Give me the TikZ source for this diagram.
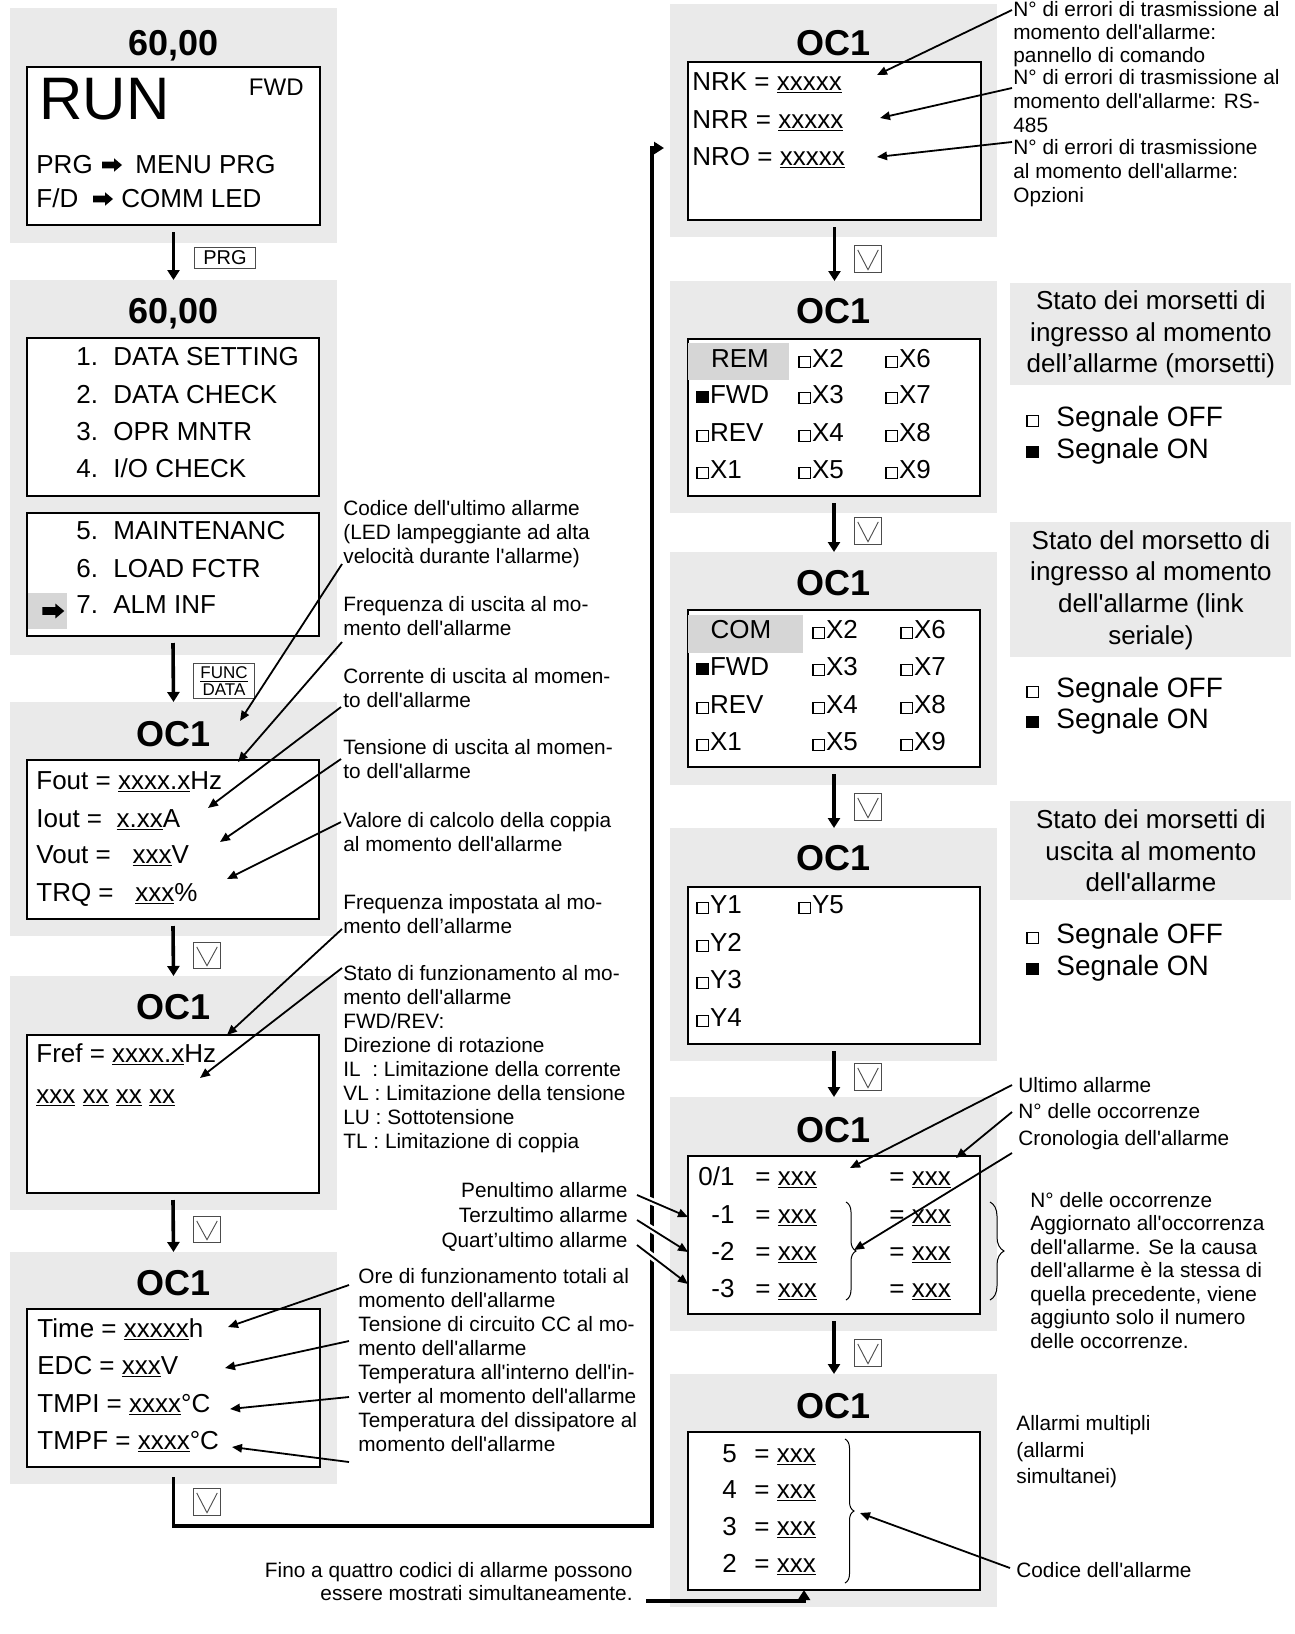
\documentclass[tikz,border=0pt]{standalone}
\usepackage{fontspec}
\setmainfont{Liberation Sans}[Ligatures=TeXOff]
\usetikzlibrary{arrows.meta,shapes.arrows,decorations.pathreplacing,positioning}

\definecolor{panelgray}{RGB}{234,234,234}
\definecolor{markgray}{RGB}{214,214,214}

% small signal squares
\newcommand{\sqoff}{{\fboxsep=0pt\fboxrule=0.6pt\fbox{\rule{0pt}{5pt}\rule{5pt}{0pt}}}\kern0.6pt}
\newcommand{\sqon}{\rule{6.2pt}{6.2pt}\kern0.6pt}
\newcommand{\ux}[1]{\underline{#1}}

\tikzset{
  rect/.style n args={4}{anchor=north west, at={(#1,#2)},
    minimum width={(#3-#1)*0.5pt}, minimum height={(#4-#2)*0.5pt}},
  panel/.style={fill=panelgray, inner sep=0pt, outer sep=0pt},
  screen/.style={draw, fill=white, line width=0.6pt, inner sep=0pt, outer sep=0pt},
  hilite/.style={fill=markgray, inner sep=0pt, outer sep=0pt},
  ttl/.style={font=\bfseries\fontsize{18}{20}\selectfont, anchor=base, inner sep=0pt},
  fld/.style={font=\fontsize{13}{15}\selectfont, anchor=base west, inner sep=0pt},
  note/.style={font=\fontsize{10.4}{#1}\selectfont, align=left, anchor=north west, inner sep=0pt},
  note/.default=12pt,
  legend/.style={fill=panelgray, font=\fontsize{13}{15.8}\selectfont, align=center, inner sep=0pt},
  sig/.style={font=\fontsize{14}{16}\selectfont, anchor=base west, inner sep=0pt},
  key/.style={draw=black!70, line width=0.5pt, fill=white, inner sep=0pt, font=\fontsize{10}{10}\selectfont},
  vkey/.style={key, path picture={\draw[line width=0.45pt]
      ([xshift=1.6pt,yshift=-2.2pt]path picture bounding box.north west) --
      ([yshift=1.4pt]path picture bounding box.south) --
      ([xshift=-1.6pt,yshift=-2.2pt]path picture bounding box.north east);}},
  flow/.style={line width=1.8pt, -{Triangle[length=5pt,width=6pt]}},
  loop/.style={line width=1.8pt},
  ptr/.style={line width=0.9pt, -{Triangle[length=5pt,width=4.2pt]}},
  brc/.style={decorate, decoration={brace, amplitude=#1}, line width=0.5pt},
  harr/.style={single arrow, fill=black, inner sep=0pt, text height=3pt, text depth=0pt,
    single arrow head extend=1.6pt, minimum height=10pt, single arrow tip angle=80},
}

\begin{document}
\begin{tikzpicture}[x=0.5pt, y=-0.5pt]
\useasboundingbox (0,0) rectangle (1295,1634);

% grey panels
\node[panel, rect={10}{8}{337}{243}]    (p1) {};
\node[panel, rect={10}{280}{337}{655}]  (p2) {};
\node[panel, rect={10}{702}{337}{936}]  (p3) {};
\node[panel, rect={10}{976}{337}{1210}] (p4) {};
\node[panel, rect={10}{1252}{337}{1484}] (p5) {};
\node[panel, rect={670}{4}{997}{237}]    (p6) {};
\node[panel, rect={670}{281}{997}{513}]  (p7) {};
\node[panel, rect={670}{552}{997}{785}]  (p8) {};
\node[panel, rect={670}{828}{997}{1061}] (p9) {};
\node[panel, rect={670}{1097}{997}{1331}] (p10) {};
\node[panel, rect={670}{1374}{997}{1607}] (p11) {};

% display screens
\node[screen, rect={27}{67}{320}{225}]    (b1) {};
\node[screen, rect={27}{338}{319}{496}]   (b2a) {};
\node[screen, rect={27}{513}{319}{636}]   (b2b) {};
\node[screen, rect={27}{760}{319}{919}]   (b3) {};
\node[screen, rect={27}{1035}{319}{1193}] (b4) {};
\node[screen, rect={27}{1309}{320}{1467}] (b5) {};
\node[screen, rect={688}{62}{981}{220}]   (b6) {};
\node[screen, rect={688}{339}{980}{496}]  (b7) {};
\node[screen, rect={688}{610}{980}{767}]  (b8) {};
\node[screen, rect={688}{887}{980}{1044}] (b9) {};
\node[screen, rect={688}{1156}{980}{1314}] (b10) {};
\node[screen, rect={688}{1432}{980}{1590}] (b11) {};

% titles
\foreach \nm/\x/\y/\t in {t1/173.5/55/{60,00}, t2/173.5/323/{60,00}, t3/173.5/746/OC1,
    t4/173.5/1019/OC1, t5/173.5/1295/OC1, t6/833.5/55/OC1, t7/833.5/323/OC1,
    t8/833.5/595/OC1, t9/833.5/870/OC1, t10/833.5/1142/OC1, t11/833.5/1418/OC1}
  \node[ttl] (\nm) at (\x,\y) {\t};

% screen 1
\node[fld, font=\fontsize{30}{32}\selectfont] (run) at (39,119) {RUN};
\node[fld, anchor=base east, font=\fontsize{12}{14}\selectfont] (fwd) at (304,95) {FWD};
\node[fld] (prg) at (36,173) {PRG};
\node[harr] (a1) at (110,165) {};
\node[fld] (menu) at (135,173) {MENU PRG};
\node[fld] (fd) at (36,207) {F/D};
\node[harr] (a2) at (101,199) {};
\node[fld] (comm) at (121,207) {COMM LED};

% screen 2
\foreach \y/\n/\t [count=\i] in {365/1./DATA SETTING, 403/2./DATA CHECK, 440/3./OPR MNTR,
    477/4./{I/O CHECK}, 539/5./MAINTENANC, 577/6./LOAD FCTR, 613/7./ALM INF}{
  \node[fld] (m\i) at (76,\y) {\n};
  \node[fld] (mt\i) at (113,\y) {\t};
}
\node[hilite, rect={28}{593}{67}{629}] (sel) {};
\node[harr, minimum height=11pt, text height=3.4pt, single arrow head extend=1.8pt] (a3) at (51,611) {};

% screen 3
\node[fld] (fout) at (36,789) {Fout = \ux{xxxx.x}Hz};
\node[fld] (iout) at (36,827) {Iout = \ \ux{x.xx}A};
\node[fld] (vout) at (36,863) {Vout = \ \ \ux{xxx}V};
\node[fld] (trq)  at (36,901) {TRQ = \ \ \ux{xxx}\%};

% screen 4
\node[fld] (fref) at (36,1062) {Fref = \ux{xxxx.x}Hz};
\node[fld] (stat) at (36,1103) {\ux{xxx} \ux{xx} \ux{xx} \ux{xx}};

% screen 5
\node[fld] (time) at (37,1337) {Time = \ux{xxxxx}h};
\node[fld] (edc)  at (37,1374) {EDC = \ux{xxx}V};
\node[fld] (tmpi) at (37,1412) {TMPI = \ux{xxxx}°C};
\node[fld] (tmpf) at (37,1449) {TMPF = \ux{xxxx}°C};

% screen 6
\node[fld] (nrk) at (692,90)  {NRK = \ux{xxxxx}};
\node[fld] (nrr) at (692,128) {NRR = \ux{xxxxx}};
\node[fld] (nro) at (692,165) {NRO = \ux{xxxxx}};

% screen 7
\node[hilite, rect={688}{343}{789}{380}] (remm) {};
\node[fld, anchor=base] (rem) at (740,367) {REM};
\node[fld] (i7a) at (696,403) {\sqon FWD};
\node[fld] (i7b) at (696,441) {\sqoff REV};
\node[fld] (i7c) at (696,478) {\sqoff X1};
\foreach \a/\b/\y [count=\i] in {X2/X6/367, X3/X7/403, X4/X8/441, X5/X9/478}{
  \node[fld] (j7\i) at (798,\y) {\sqoff\a};
  \node[fld] (k7\i) at (885,\y) {\sqoff\b};
}

% screen 8
\node[hilite, rect={688}{615}{803}{653}] (comm8) {};
\node[fld, anchor=base] (com) at (741,638) {COM};
\node[fld] (i8a) at (696,675) {\sqon FWD};
\node[fld] (i8b) at (696,713) {\sqoff REV};
\node[fld] (i8c) at (696,750) {\sqoff X1};
\foreach \a/\b/\y [count=\i] in {X2/X6/638, X3/X7/675, X4/X8/713, X5/X9/750}{
  \node[fld] (j8\i) at (812,\y) {\sqoff\a};
  \node[fld] (k8\i) at (900,\y) {\sqoff\b};
}

% screen 9
\foreach \t/\y [count=\i] in {Y1/913, Y2/951, Y3/988, Y4/1026}
  \node[fld] (y\i) at (696,\y) {\sqoff\t};
\node[fld] (y5) at (798,913) {\sqoff Y5};

% screen 10
\foreach \l/\y [count=\i] in {{0/1}/1185, -1/1223, -2/1260, -3/1297}{
  \node[fld, anchor=base east] (h\i) at (735,\y) {\l};
  \node[fld] (hv\i) at (755,\y) {= \ux{xxx}};
  \node[fld] (hn\i) at (889,\y) {= \ux{xxx}};
}
\draw[brc=5pt] (846,1202) -- (846,1300);

% screen 11
\foreach \l/\y [count=\i] in {5/1462, 4/1498, 3/1535, 2/1572}{
  \node[fld] (s\i) at (722,\y) {\l};
  \node[fld] (sv\i) at (754,\y) {= \ux{xxx}};
}
\draw[brc=4.5pt] (845,1439) -- (845,1583);

% keys
\node[key, rect={194}{247}{255}{268}] (kprg) {PRG};
\node[key, rect={193}{663}{254}{698}, align=center, font=\fontsize{8.5}{8.5}\selectfont] (kfunc) {\underline{FUNC}\\DATA};
\node[vkey, rect={193}{942}{220}{968}]   (kv3) {};
\node[vkey, rect={193}{1216}{220}{1242}] (kv4) {};
\node[vkey, rect={193}{1488}{220}{1515}] (kv5) {};
\node[vkey, rect={854}{245}{881}{272}]   (kv6) {};
\node[vkey, rect={854}{517}{881}{544}]   (kv7) {};
\node[vkey, rect={854}{793}{881}{820}]   (kv8) {};
\node[vkey, rect={854}{1063}{881}{1090}] (kv9) {};
\node[vkey, rect={854}{1339}{881}{1366}] (kv10) {};

% flow between screens
\draw[flow] ([yshift=-3.5pt]b1.south) -- (p2.north);
\draw[flow] ([yshift=-3.5pt]b2b.south) -- (p3.north);
\draw[flow] ([yshift=-3.5pt]b3.south) -- (p4.north);
\draw[flow] ([yshift=-3.5pt]b4.south) -- (p5.north);
\foreach \a/\b in {b6/p7, b7/p8, b8/p9, b9/p10, b10/p11}
  \draw[flow] ([yshift=-3.5pt]\a.south) -- (\a.south |- \b.north);

% loop to the right column
\coordinate (loopA) at (173.5,1526);
\coordinate (loopB) at (652,1526);
\coordinate (loopC) at (652,148);
\draw[loop, -{Triangle[length=5pt,width=6pt]}, shorten >=3pt]
  ([yshift=-5pt]b5.south) -- (loopA) -- (loopB) -- (loopC) -- (loopC -| p6.west);

% legends
\node[legend, rect={1010}{283}{1291}{385}] (lg1) {Stato dei morsetti di\\ingresso al momento\\dell’allarme (morsetti)};
\node[legend, rect={1010}{522}{1291}{657}] (lg2) {Stato del morsetto di\\ingresso al momento\\dell'allarme (link\\seriale)};
\node[legend, rect={1010}{801}{1291}{900}] (lg3) {Stato dei morsetti di\\uscita al momento\\dell'allarme};
\foreach \y/\z [count=\i] in {426/458, 697/728, 943/975}{
  \node[sig] (off\i) at (1026,\y) {\makebox[15pt][l]{\sqoff}Segnale OFF};
  \node[sig] (on\i)  at (1026,\z) {\makebox[15pt][l]{\sqon}Segnale ON};
}

% notes
\node[note] (nCode) at (343,500.5) {Codice dell'ultimo allarme\\(LED lampeggiante ad alta\\velocità durante l'allarme)};
\node[note] (nFout) at (343,596.5) {Frequenza di uscita al mo-\\mento dell'allarme};
\node[note] (nIout) at (343,668.5) {Corrente di uscita al momen-\\to dell'allarme};
\node[note] (nVout) at (343,739.5) {Tensione di uscita al momen-\\to dell'allarme};
\node[note] (nTrq)  at (343,812.5) {Valore di calcolo della coppia\\al momento dell'allarme};
\node[note] (nFref) at (343,894.5) {Frequenza impostata al mo-\\mento dell’allarme};
\node[note] (nStat) at (343,965.5) {Stato di funzionamento al mo-\\mento dell'allarme\\FWD/REV:\\Direzione di rotazione\\IL\ \ : Limitazione della corrente\\VL : Limitazione della tensione\\LU : Sottotensione\\TL : Limitazione di coppia};
\node[note] (nTime) at (358,1268.5) {Ore di funzionamento totali al\\momento dell'allarme};
\node[note] (nEdc)  at (358,1316.5) {Tensione di circuito CC al mo-\\mento dell'allarme};
\node[note] (nTmpi) at (358,1364.5) {Temperatura all'interno dell'in-\\verter al momento dell'allarme};
\node[note] (nTmpf) at (358,1412.5) {Temperatura del dissipatore al\\momento dell'allarme};
\node[note, anchor=base east] (nPen) at (628,1197) {Penultimo allarme};
\node[note, anchor=base east] (nTer) at (628,1222) {Terzultimo allarme};
\node[note, anchor=base east] (nQua) at (628,1247) {Quart’ultimo allarme};
\node[note=11.5pt, align=right, anchor=north east] (nFino) at (633,1562.5) {Fino a quattro codici di allarme possono\\essere mostrati simultaneamente.};
\node[note=11.5pt] (nNrk) at (1013,1)  {N° di errori di trasmissione al\\momento dell'allarme:\\pannello di comando};
\node[note] (nNrr) at (1013,69.5)  {N° di errori di trasmissione al\\momento dell'allarme: RS-\\485};
\node[note] (nNro) at (1013,139.5) {N° di errori di trasmissione\\al momento dell'allarme:\\Opzioni};
\node[note] (nLast) at (1018,1077.5) {Ultimo allarme};
\node[note] (nOcc)  at (1018,1103.5) {N° delle occorrenze};
\node[note] (nHist) at (1018,1130.5) {Cronologia dell'allarme};
\node[note=11.75pt] (nOccNote) at (1030,1192) {N° delle occorrenze\\Aggiornato all'occorrenza\\dell'allarme. Se la causa\\dell'allarme è la stessa di\\quella precedente, viene\\aggiunto solo il numero\\delle occorrenze.};
\draw[brc=7pt] (990,1202) -- (990,1300);
\node[note=13.25pt] (nMulti) at (1016,1415.5) {Allarmi multipli\\(allarmi\\simultanei)};
\node[note] (nAlm) at (1016,1562.5) {Codice dell'allarme};

% pointer ends
\foreach \nm/\x/\y in {sCode/342/564, eCode/240/721, sFout/342/642, eFout/238/762,
    sIout/341/707, eIout/208/808, sVout/341/759, eVout/220/842, sTrq/341/822, eTrq/227/879,
    sFref/342/929, eFref/227/1035, sStat/342/968, eStat/200/1078,
    sTime/349/1285, eTime/228/1327, sEdc/349/1341, eEdc/225/1368,
    sTmpi/349/1397, eTmpi/230/1409, sTmpf/349/1462, eTmpf/232/1447,
    sPen/637/1195, ePen/688/1217, sTer/637/1220, eTer/688/1252, sQua/637/1245, eQua/688/1284,
    sNrk/1012/10, eNrk/877/75, sNrr/1012/88, eNrr/880/118, sNro/1012/142, eNro/877/157,
    sLast/1012/1085, eLast/850/1168, sOcc/1012/1112, eOcc/956/1158,
    sHist/1012/1153, eHist/854/1250, sAlm/1010/1568, eAlm/860/1513}
  \coordinate (\nm) at (\x,\y);

% gaps in the loop line
\begin{scope}
  \clip (644,1150) rectangle (660,1300);
  \foreach \n in {Pen,Ter,Qua}
    \draw[white, line width=3.5pt] (s\n) -- (e\n);
\end{scope}

\foreach \n in {Code,Fout,Iout,Vout,Trq,Fref,Stat,Time,Edc,Tmpi,Tmpf,Pen,Ter,Qua,
    Nrk,Nrr,Nro,Last,Occ,Hist,Alm}
  \draw[ptr] (s\n) -- (e\n);

% bottom pointer
\coordinate (finoA) at (646,1601);
\draw[loop, -{Triangle[length=5pt,width=6pt]}] (finoA) -| ([xshift=-15pt]b11.south);
\end{tikzpicture}
\end{document}
